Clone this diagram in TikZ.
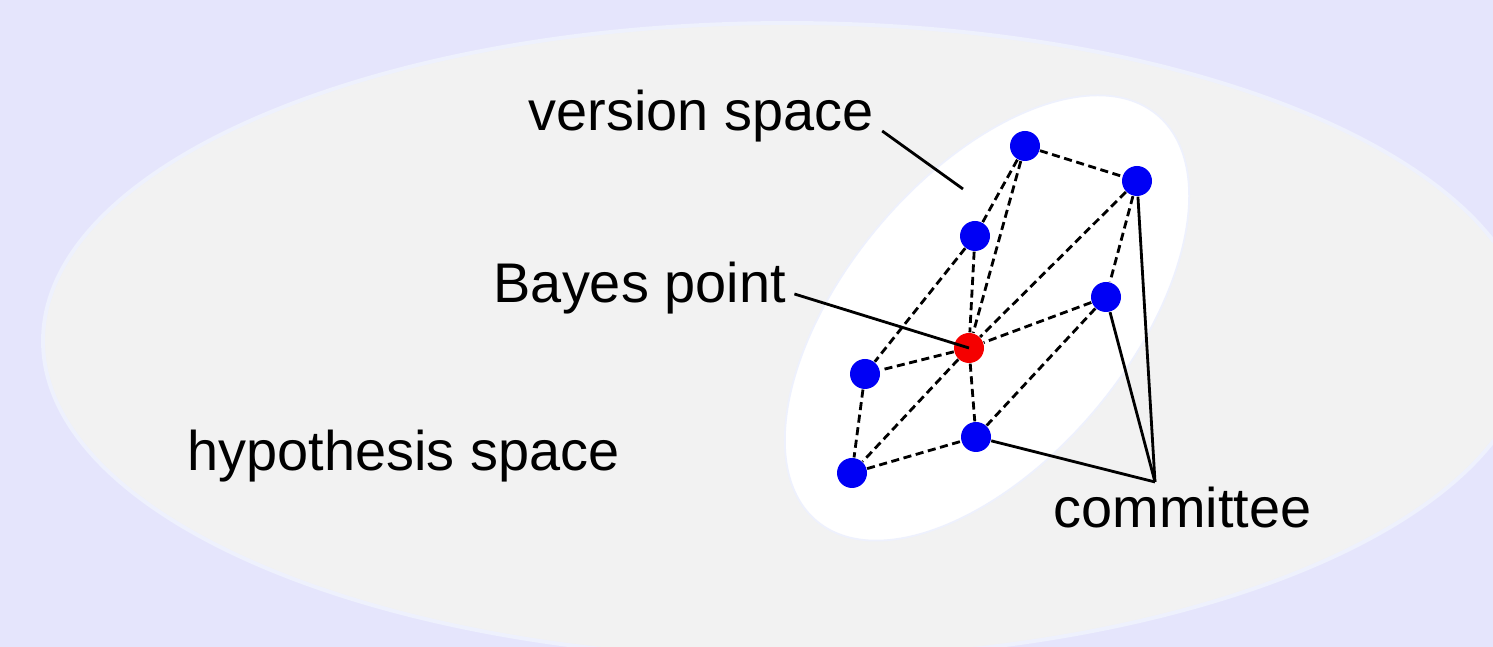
\documentclass[tikz,border=0pt]{standalone}
\usepackage{fontspec}
\setmainfont{Liberation Sans}
\usepackage{xcolor}
\usetikzlibrary{positioning}
\definecolor{vsback}{RGB}{229,229,252}
\definecolor{vsgrey}{RGB}{242,242,242}
\definecolor{vsrim}{RGB}{238,241,253}
\definecolor{vsblue}{RGB}{0,0,245}
\definecolor{vsred}{RGB}{245,0,0}

\begin{document}
\begin{tikzpicture}[x=0.1mm, y=-0.1mm,
  every node/.style={font=\fontsize{15.9}{19}\selectfont},
  hyp/.style={circle,fill=vsblue,minimum size=3.0mm,inner sep=0pt},
  bayes/.style={hyp,fill=vsred},
  lbl/.style={inner sep=0pt,anchor=base west},
  tie/.style={dash pattern=on 2.3pt off 1.3pt,line width=0.8pt},
  lead/.style={line width=0.8pt}]
  \useasboundingbox (0,0) rectangle (1493,647);
  \fill[vsback] (0,0) rectangle (1493,647);
  \clip (0,0) rectangle (1493,647);
  % hypothesis space and version space
  \filldraw[fill=vsgrey,draw=vsrim,line width=1.1pt] (787,341) ellipse [x radius=744, y radius=318];
  \filldraw[fill=white,draw=vsrim,line width=0.5pt,rotate around={50:(987,318)}] (987,318) ellipse [x radius=265, y radius=142];
  % hypotheses
  \node[hyp] (h1) at (1025,146) {};
  \node[hyp] (h2) at (1137,181) {};
  \node[hyp] (h3) at (975,236) {};
  \node[hyp] (h4) at (1106,297) {};
  \node[hyp] (h5) at (865,374) {};
  \node[hyp] (h6) at (976,437) {};
  \node[hyp] (h7) at (852,473) {};
  \node[bayes] (bp) at (969,348) {};
  \draw[tie] (h1)--(h2); \draw[tie] (h1)--(h3); \draw[tie] (h1)--(bp);
  \draw[tie] (h3)--(bp); \draw[tie] (h3)--(h5); \draw[tie] (h2)--(bp);
  \draw[tie] (h2)--(h4); \draw[tie] (h4)--(bp); \draw[tie] (h4)--(h6);
  \draw[tie] (bp)--(h5); \draw[tie] (bp)--(h7); \draw[tie] (bp)--(h6);
  \draw[tie] (h5)--(h7); \draw[tie] (h7)--(h6);
  % labels
  \node[lbl] (vslbl) at (528,131) {version space};
  \node[lbl] (bplbl) at (493,303) {Bayes point};
  \node[lbl] (hslbl) at (187,471) {hypothesis space};
  \node[lbl] (cmlbl) at (1053,528) {committee};
  \coordinate (vsend) at (963,189);
  \coordinate (cmt) at (1155,482);
  \draw[lead] ([xshift=0.8mm]vslbl.base east)--(vsend);
  \draw[lead] ([xshift=0.8mm,yshift=0.9mm]bplbl.base east)--(bp.center);
  \draw[lead] (h2)--(cmt); \draw[lead] (h4)--(cmt); \draw[lead] (h6)--(cmt);
\end{tikzpicture}
\end{document}
